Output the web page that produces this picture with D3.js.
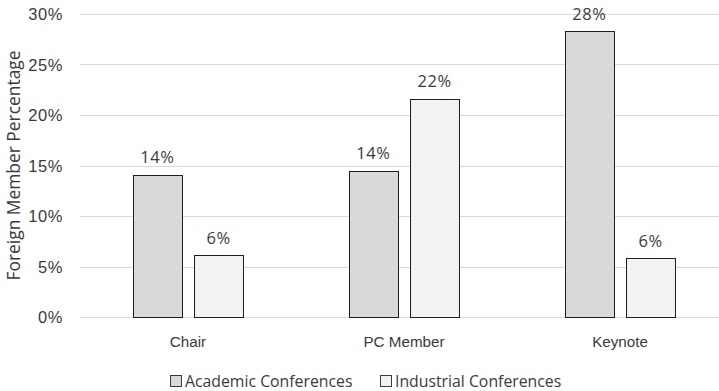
<!DOCTYPE html>
<html>
<head>
<meta charset="utf-8">
<script src="https://cdn.jsdelivr.net/npm/d3@7"></script>
<style>
  html, body { margin: 0; padding: 0; background: #fff; }
  svg { display: block; font-family: "Open Sans", "Noto Sans", sans-serif; }
  text { fill: #3b3b3b; }
</style>
</head>
<body>
<svg id="chart" width="719" height="391"></svg>
<script>
// Roles and the two conference types
const categories = ["Chair", "PC Member", "Keynote"];
const seriesNames = ["Academic Conferences", "Industrial Conferences"];
const academic = [14.1, 14.5, 28.3];
const industrial = [6.1, 21.6, 5.8];
const valueLabels = [["14%", "14%", "28%"], ["6%", "22%", "6%"]];
const yTicks = [0, 5, 10, 15, 20, 25, 30];
const seriesColors = ["#d9d9d9", "#f2f2f2"];

const svg = d3.select("#chart");
const numSize = 16.5;     // tick and value labels
const catSize = 15.2;     // category labels
const legendSize = 15.8;
const titleSize = 17.4;

const y = d3.scaleLinear().domain([0, 30]).range([317, 14]);
const x0 = d3.scaleBand().domain(categories).range([80, 728]).paddingInner(0).paddingOuter(0);
const x1 = d3.scaleBand().domain(seriesNames).range([0, x0.bandwidth()])
  .paddingInner(0.205).paddingOuter(0.865);

// Horizontal gridlines
svg.append("g")
  .selectAll("line")
  .data(yTicks)
  .join("line")
  .attr("x1", 80).attr("x2", 728)
  .attr("y1", d => Math.round(y(d)) + 0.5)
  .attr("y2", d => Math.round(y(d)) + 0.5)
  .attr("stroke", "#d9d9d9")
  .attr("stroke-width", 1.2);

// Y axis tick labels
const yAxis = d3.axisLeft(y).tickValues(yTicks).tickFormat(d => d + "%").tickSize(0).tickPadding(0);
const yg = svg.append("g").attr("transform", "translate(63,0)").call(yAxis);
yg.select(".domain").remove();
yg.selectAll("text").attr("font-size", numSize).attr("font-family", null)
  .attr("letter-spacing", 0.6).attr("dy", "0.35em").style("fill", "#3b3b3b");

// Category axis labels
const xAxis = d3.axisBottom(x0).tickSize(0).tickPadding(0);
const xg = svg.append("g").attr("transform", "translate(0,347)").call(xAxis);
xg.select(".domain").remove();
xg.selectAll("text").attr("font-size", catSize).attr("font-family", null).attr("dy", 0).attr("y", 0).style("fill", "#3b3b3b");

// Bars
const rows = categories.map((c, i) => ({ cat: c, vals: [academic[i], industrial[i]], labels: [valueLabels[0][i], valueLabels[1][i]] }));
const groups = svg.append("g").selectAll("g")
  .data(rows)
  .join("g")
  .attr("transform", d => `translate(${x0(d.cat)},0)`);

groups.selectAll("rect")
  .data(d => d.vals.map((v, j) => ({ s: seriesNames[j], v, j })))
  .join("rect")
  .attr("x", d => Math.round(x1(d.s)) + 0.5)
  .attr("y", d => Math.round(y(d.v)) + 0.5)
  .attr("width", Math.round(x1.bandwidth()))
  .attr("height", d => Math.round(y(0)) - Math.round(y(d.v)))
  .attr("fill", d => seriesColors[d.j])
  .attr("stroke", "#1f1f1f")
  .attr("stroke-width", 1);

// Value labels above bars
groups.selectAll("text.val")
  .data(d => d.vals.map((v, j) => ({ s: seriesNames[j], v, label: d.labels[j] })))
  .join("text")
  .attr("class", "val")
  .attr("x", d => x1(d.s) + x1.bandwidth() / 2)
  .attr("y", d => y(d.v) - 11.5)
  .attr("text-anchor", "middle")
  .attr("font-size", numSize)
  .attr("letter-spacing", 0.6)
  .text(d => d.label);

// Y axis title
svg.append("text")
  .attr("transform", `translate(19.5,${(y(0) + y(30)) / 2}) rotate(-90)`)
  .attr("text-anchor", "middle")
  .attr("font-size", titleSize)
  .text("Foreign Member Percentage");

// Legend
const legendX = [170, 380];
const legend = svg.append("g").selectAll("g")
  .data(seriesNames)
  .join("g")
  .attr("transform", (d, i) => `translate(${legendX[i]},375)`);
legend.append("rect")
  .attr("x", 0.5).attr("y", 0.5)
  .attr("width", 11).attr("height", 11)
  .attr("fill", (d, i) => seriesColors[i])
  .attr("stroke", "#3b3b3b");
legend.append("text")
  .attr("x", 15).attr("y", 11.5)
  .attr("font-size", legendSize)
  .text(d => d);
</script>
</body>
</html>
